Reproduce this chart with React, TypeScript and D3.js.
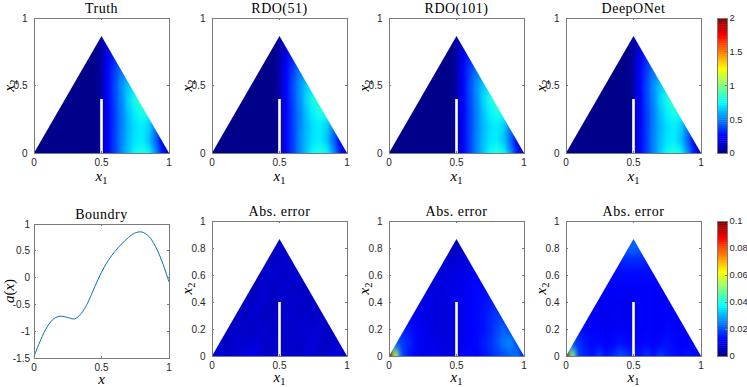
import React from 'react';
import * as d3 from 'd3';

const W = 747;
const H = 387;

// ---------- data ----------
const topTitles = ['Truth', 'RDO(51)', 'RDO(101)', 'DeepONet'];
const bottomTitles = ['Abs. error', 'Abs. error', 'Abs. error'];
const topYTicks = [0, 0.5, 1];
const errYTicks = [0, 0.2, 0.4, 0.6, 0.8, 1];
const xTicks = [0, 0.5, 1];
const solColorTicks = [0, 0.5, 1, 1.5, 2];
const errColorTicks = [0, 0.02, 0.04, 0.06, 0.08, 0.1];
const boundaryYTicks = [-1.5, -1, -0.5, 0, 0.5, 1];

const gridY = [0, 0.1, 0.2, 0.3, 0.4, 0.5, 0.6, 0.7, 0.8];

// solution u(x1,x2) sampled at solGridX × gridY (rows = gridY)
const solGridX = [0, 0.25, 0.45, 0.49, 0.51, 0.55, 0.6, 0.65, 0.7, 0.75, 0.8, 0.85, 0.9, 0.95, 1];
const truthField = [
  [0, 0, 0, 0, 0.12, 0.24, 0.37, 0.51, 0.64, 0.76, 0.82, 0.76, 0.56, 0.30, 0.06],
  [0, 0, 0, 0, 0.12, 0.24, 0.37, 0.51, 0.62, 0.70, 0.72, 0.64, 0.46, 0.24, 0.08],
  [0, 0, 0, 0, 0.12, 0.24, 0.37, 0.50, 0.61, 0.69, 0.72, 0.67, 0.50, 0.32, 0.12],
  [0, 0, 0, 0, 0.13, 0.24, 0.37, 0.50, 0.63, 0.73, 0.80, 0.78, 0.60, 0.42, 0.22],
  [0, 0, 0, 0, 0.13, 0.25, 0.38, 0.52, 0.67, 0.80, 0.84, 0.74, 0.58, 0.42, 0.22],
  [0, 0, 0, 0.02, 0.12, 0.25, 0.39, 0.53, 0.65, 0.70, 0.64, 0.52, 0.42, 0.32, 0.22],
  [0, 0, 0, 0.02, 0.12, 0.25, 0.37, 0.49, 0.54, 0.50, 0.42, 0.36, 0.30, 0.25, 0.20],
  [0, 0, 0, 0.02, 0.11, 0.22, 0.33, 0.39, 0.37, 0.32, 0.28, 0.25, 0.22, 0.20, 0.18],
  [0, 0, 0, 0.02, 0.09, 0.18, 0.25, 0.28, 0.27, 0.25, 0.22, 0.20, 0.18, 0.17, 0.16],
];
// the three predictions are indistinguishable from the truth on the 0–2 colour scale
const rdo51Field = truthField;
const rdo101Field = truthField;
const deeponetField = truthField;

// absolute errors (thousandths) sampled at errGridX × gridY
const errGridX = [0, 0.05, 0.1, 0.15, 0.2, 0.25, 0.3, 0.35, 0.4, 0.45, 0.5, 0.55, 0.6, 0.65, 0.7, 0.75, 0.8, 0.85, 0.9, 0.95, 1];
const rdo51Err = [
  [8, 9, 7, 6, 8, 10, 11, 9, 7, 6, 9, 8, 6, 7, 9, 8, 6, 8, 9, 8, 7],
  [7, 8, 6, 7, 8, 7, 9, 8, 6, 7, 8, 6, 8, 6, 8, 9, 7, 6, 8, 7, 7],
  [7, 6, 5, 7, 6, 8, 6, 7, 8, 6, 8, 7, 6, 8, 7, 8, 8, 6, 7, 7, 7],
  [7, 7, 7, 5, 7, 6, 8, 7, 5, 7, 6, 8, 7, 6, 8, 6, 7, 7, 7, 7, 7],
  [7, 7, 7, 7, 5, 7, 6, 8, 7, 6, 7, 6, 8, 7, 6, 7, 7, 7, 7, 7, 7],
  [7, 7, 7, 7, 7, 6, 5, 7, 8, 6, 7, 8, 6, 7, 7, 7, 7, 7, 7, 7, 7],
  [7, 7, 7, 7, 7, 7, 7, 6, 7, 8, 7, 6, 8, 7, 7, 7, 7, 7, 7, 7, 7],
  [7, 7, 7, 7, 7, 7, 7, 7, 7, 6, 7, 8, 7, 7, 7, 7, 7, 7, 7, 7, 7],
  [7, 7, 7, 7, 7, 7, 7, 7, 7, 7, 7, 7, 7, 7, 7, 7, 7, 7, 7, 7, 7],
];
const rdo101Err = [
  [100, 55, 20, 14, 12, 10, 11, 12, 10, 9, 10, 12, 13, 12, 14, 16, 18, 20, 22, 24, 15],
  [40, 22, 18, 16, 13, 11, 10, 10, 9, 9, 10, 11, 12, 13, 15, 17, 20, 24, 26, 20, 15],
  [20, 18, 16, 14, 12, 11, 10, 9, 9, 9, 10, 11, 12, 13, 14, 16, 19, 22, 20, 18, 15],
  [15, 14, 13, 12, 11, 10, 10, 9, 9, 9, 10, 11, 12, 13, 14, 16, 18, 18, 16, 15, 15],
  [12, 12, 11, 11, 11, 10, 10, 9, 9, 9, 10, 11, 12, 13, 14, 15, 15, 15, 15, 15, 15],
  [10, 10, 10, 10, 10, 10, 9, 9, 9, 10, 10, 11, 12, 13, 13, 13, 13, 13, 13, 13, 13],
  [10, 10, 10, 10, 10, 9, 9, 9, 9, 9, 10, 10, 11, 12, 12, 12, 12, 12, 12, 12, 12],
  [10, 10, 10, 10, 10, 9, 9, 8, 8, 8, 8, 9, 10, 10, 10, 10, 10, 10, 10, 10, 10],
  [8, 8, 8, 8, 8, 8, 8, 7, 6, 6, 6, 7, 8, 8, 8, 8, 8, 8, 8, 8, 8],
];
const deeponetErr = [
  [100, 50, 18, 16, 14, 18, 14, 16, 20, 18, 15, 14, 17, 14, 18, 15, 14, 13, 14, 13, 12],
  [40, 20, 17, 14, 13, 13, 12, 13, 14, 13, 13, 12, 13, 12, 13, 14, 13, 12, 12, 12, 12],
  [18, 16, 14, 13, 12, 12, 11, 12, 12, 12, 12, 12, 12, 12, 12, 13, 12, 12, 12, 12, 12],
  [15, 14, 13, 12, 12, 11, 11, 11, 11, 11, 11, 12, 12, 12, 12, 12, 12, 12, 12, 12, 12],
  [13, 13, 12, 12, 12, 11, 11, 11, 11, 11, 12, 12, 12, 12, 12, 12, 12, 12, 12, 12, 12],
  [12, 12, 12, 12, 12, 12, 12, 12, 12, 12, 12, 12, 12, 12, 12, 12, 12, 12, 12, 12, 12],
  [12, 12, 12, 12, 12, 12, 12, 13, 13, 13, 13, 13, 13, 13, 13, 13, 13, 13, 13, 13, 13],
  [13, 13, 13, 13, 13, 13, 13, 14, 15, 16, 16, 16, 15, 14, 14, 14, 14, 14, 14, 14, 14],
  [15, 15, 15, 15, 15, 15, 16, 17, 19, 21, 22, 21, 19, 17, 16, 16, 16, 16, 16, 16, 16],
];
const ERR_UNIT = 0.001;

// boundary data a(x)
const boundaryX = [0, 0.05, 0.1, 0.15, 0.2, 0.25, 0.3, 0.35, 0.4, 0.45, 0.5, 0.55, 0.6, 0.65, 0.7, 0.75, 0.8, 0.85, 0.9, 0.95, 1];
const boundaryA = [-1.47, -1.16, -0.91, -0.76, -0.72, -0.745, -0.77, -0.67, -0.46, -0.17, 0.1, 0.32, 0.49, 0.63, 0.75, 0.835, 0.85, 0.77, 0.58, 0.29, -0.08];

// ---------- style ----------
const S = 135;
const topLefts = [34, 212, 389, 566];
const TOP_Y = 18;
const bottomLefts = [212, 389, 566];
const BOT_Y = 221;
const CB_X = 717;
const CB_W = 10;
const AX = '#7a7a7a';
const TXT = '#262626';
const sans = '"Liberation Sans", Arial, Helvetica, sans-serif';
const serif = '"Liberation Serif", "Times New Roman", serif';
const LABEL_SIZE = 15;

const jet = d3
  .scaleLinear<string>()
  .domain([0, 1 / 8, 3 / 8, 5 / 8, 7 / 8, 1])
  .range(['#00008a', '#0000ff', '#00ffff', '#ffff00', '#ff0000', '#800000'])
  .interpolate(d3.interpolateRgb)
  .clamp(true);

function fmt(v: number) {
  return String(+v.toFixed(3));
}

function XLabel({ cx, y, sub }: { cx: number; y: number; sub?: string }) {
  return (
    <text x={cx} y={y} textAnchor="middle" fontFamily={serif} fontSize={LABEL_SIZE} fill="#000">
      <tspan fontStyle="italic">x</tspan>
      {sub && (
        <tspan fontSize={10.5} dy={3}>
          {sub}
        </tspan>
      )}
    </text>
  );
}

function YLabel({ x, cy, children }: { x: number; cy: number; children: any }) {
  return (
    <text transform={`translate(${x},${cy}) rotate(-90)`} textAnchor="middle" fontFamily={serif} fontSize={LABEL_SIZE} fill="#000">
      {children}
    </text>
  );
}

function Title({ cx, y, children }: any) {
  return (
    <text x={cx} y={y} textAnchor="middle" fontFamily={serif} fontSize={14} letterSpacing={0.5} fill="#000">
      {children}
    </text>
  );
}

function Frame({ left, top, w, h, x, y, xt, yt, yGap }: any) {
  return (
    <g>
      <rect x={left} y={top} width={w} height={h} fill="none" stroke={AX} strokeWidth={1} shapeRendering="crispEdges" />
      {xt.map((t: number) => (
        <g key={'x' + t}>
          <line x1={x(t)} x2={x(t)} y1={top + h} y2={top + h - 2} stroke={AX} shapeRendering="crispEdges" />
          <line x1={x(t)} x2={x(t)} y1={top} y2={top + 2} stroke={AX} shapeRendering="crispEdges" />
          <text x={x(t)} y={top + h + 13} textAnchor="middle" fontFamily={sans} fontSize={10} fill={TXT}>
            {fmt(t)}
          </text>
        </g>
      ))}
      {yt.map((t: number) => (
        <g key={'y' + t}>
          <line x1={left} x2={left + 2} y1={y(t)} y2={y(t)} stroke={AX} shapeRendering="crispEdges" />
          <line x1={left + w} x2={left + w - 2} y1={y(t)} y2={y(t)} stroke={AX} shapeRendering="crispEdges" />
          <text x={left - yGap} y={y(t) + 3.6} textAnchor="end" fontFamily={sans} fontSize={10} fill={TXT}>
            {fmt(t)}
          </text>
        </g>
      ))}
    </g>
  );
}

function HeatPanel({ uid, left, top, gx, field, unit, vmax, yt, title, xlabOff }: any) {
  const x = d3.scaleLinear().domain([0, 1]).range([left, left + S]);
  const y = d3.scaleLinear().domain([0, 1]).range([top + S, top]);
  const apex = Math.sqrt(3) / 2;
  const tri = `${x(0)},${y(0)} ${x(1)},${y(0)} ${x(0.5)},${y(apex)}`;
  const nX = gx.length;
  const nY = gridY.length;
  const cells: any[] = [];
  field.forEach((row: number[], j: number) => {
    row.forEach((v: number, i: number) => {
      const x0 = i === 0 ? -0.1 : (gx[i - 1] + gx[i]) / 2;
      const x1 = i === nX - 1 ? 1.1 : (gx[i] + gx[i + 1]) / 2;
      const y0 = j === 0 ? -0.1 : (gridY[j - 1] + gridY[j]) / 2;
      const y1 = j === nY - 1 ? 1.0 : (gridY[j] + gridY[j + 1]) / 2;
      cells.push(
        <rect
          key={i + '-' + j}
          x={x(x0) - 0.3}
          y={y(y1) - 0.3}
          width={x(x1) - x(x0) + 0.6}
          height={y(y0) - y(y1) + 0.6}
          fill={jet((v * unit) / vmax)}
        />
      );
    });
  });
  return (
    <g>
      <defs>
        <clipPath id={'tri' + uid}>
          <polygon points={tri} />
        </clipPath>
      </defs>
      <g clipPath={`url(#tri${uid})`}>
        <g filter="url(#smooth)">{cells}</g>
      </g>
      <rect x={x(0.5) - 1.3} y={y(0.4)} width={2.6} height={y(0) - y(0.4)} fill="#fff" />
      <Frame left={left} top={top} w={S} h={S} x={x} y={y} xt={xTicks} yt={yt} yGap={6.5} />
      <Title cx={left + S / 2} y={top - 5.5}>
        {title}
      </Title>
      <XLabel cx={left + S / 2} y={top + S + xlabOff} sub="1" />
      <YLabel x={left - 20.5} cy={top + S / 2}>
        <tspan fontStyle="italic">x</tspan>
        <tspan fontSize={10.5} dy={3}>
          2
        </tspan>
      </YLabel>
    </g>
  );
}

function ColorBar({ top, vmax, ticks }: any) {
  const y = d3.scaleLinear().domain([0, vmax]).range([top + S, top]);
  const steps = d3.range(64);
  const hStep = S / 64;
  return (
    <g>
      {steps.map((k) => (
        <rect key={k} x={CB_X} y={top + S - (k + 1) * hStep} width={CB_W} height={hStep + 0.4} fill={jet((k + 0.5) / 64)} />
      ))}
      <rect x={CB_X} y={top} width={CB_W} height={S} fill="none" stroke={AX} shapeRendering="crispEdges" />
      {ticks.map((t: number) => (
        <g key={t}>
          <line x1={CB_X + CB_W} x2={CB_X + CB_W - 2} y1={y(t)} y2={y(t)} stroke={AX} shapeRendering="crispEdges" />
          <text x={CB_X + CB_W + 2.5} y={y(t) + 3.4} fontFamily={sans} fontSize={9.4} fill={TXT}>
            {fmt(t)}
          </text>
        </g>
      ))}
    </g>
  );
}

function BoundaryPanel() {
  const left = 34;
  const top = 224;
  const w = 135;
  const h = 134;
  const x = d3.scaleLinear().domain([0, 1]).range([left, left + w]);
  const y = d3.scaleLinear().domain([-1.5, 1]).range([top + h, top]);
  const line = d3
    .line<number>()
    .x((_, i) => x(boundaryX[i]))
    .y((d) => y(d))
    .curve(d3.curveCatmullRom.alpha(0.5));
  return (
    <g>
      <path d={line(boundaryA) || ''} fill="none" stroke="#0072BD" strokeWidth={1} />
      <Frame left={left} top={top} w={w} h={h} x={x} y={y} xt={xTicks} yt={boundaryYTicks} yGap={4} />
      <Title cx={left + w / 2} y={top - 5.5}>
        Boundry
      </Title>
      <XLabel cx={left + w / 2} y={top + h + 26} />
      <YLabel x={left - 20} cy={top + h / 2}>
        <tspan fontStyle="italic">a</tspan>
        <tspan>(</tspan>
        <tspan fontStyle="italic">x</tspan>
        <tspan>)</tspan>
      </YLabel>
    </g>
  );
}

export default function App() {
  const topFields = [truthField, rdo51Field, rdo101Field, deeponetField];
  const errFields = [rdo51Err, rdo101Err, deeponetErr];
  return (
    <svg width={W} height={H} viewBox={`0 0 ${W} ${H}`} style={{ position: 'absolute', left: 0, top: 0, background: '#fff' }}>
      <defs>
        <filter id="smooth" x="-5%" y="-5%" width="110%" height="110%" colorInterpolationFilters="sRGB">
          <feGaussianBlur stdDeviation="2 4" />
        </filter>
      </defs>
      <rect width={W} height={H} fill="#fff" />
      {topFields.map((f, k) => (
        <HeatPanel key={'t' + k} uid={'t' + k} left={topLefts[k]} top={TOP_Y} gx={solGridX} field={f} unit={1} vmax={2} yt={topYTicks} title={topTitles[k]} xlabOff={28} />
      ))}
      <ColorBar top={TOP_Y} vmax={2} ticks={solColorTicks} />
      <BoundaryPanel />
      {errFields.map((f, k) => (
        <HeatPanel key={'b' + k} uid={'b' + k} left={bottomLefts[k]} top={BOT_Y} gx={errGridX} field={f} unit={ERR_UNIT} vmax={0.1} yt={errYTicks} title={bottomTitles[k]} xlabOff={25.5} />
      ))}
      <ColorBar top={BOT_Y} vmax={0.1} ticks={errColorTicks} />
    </svg>
  );
}
